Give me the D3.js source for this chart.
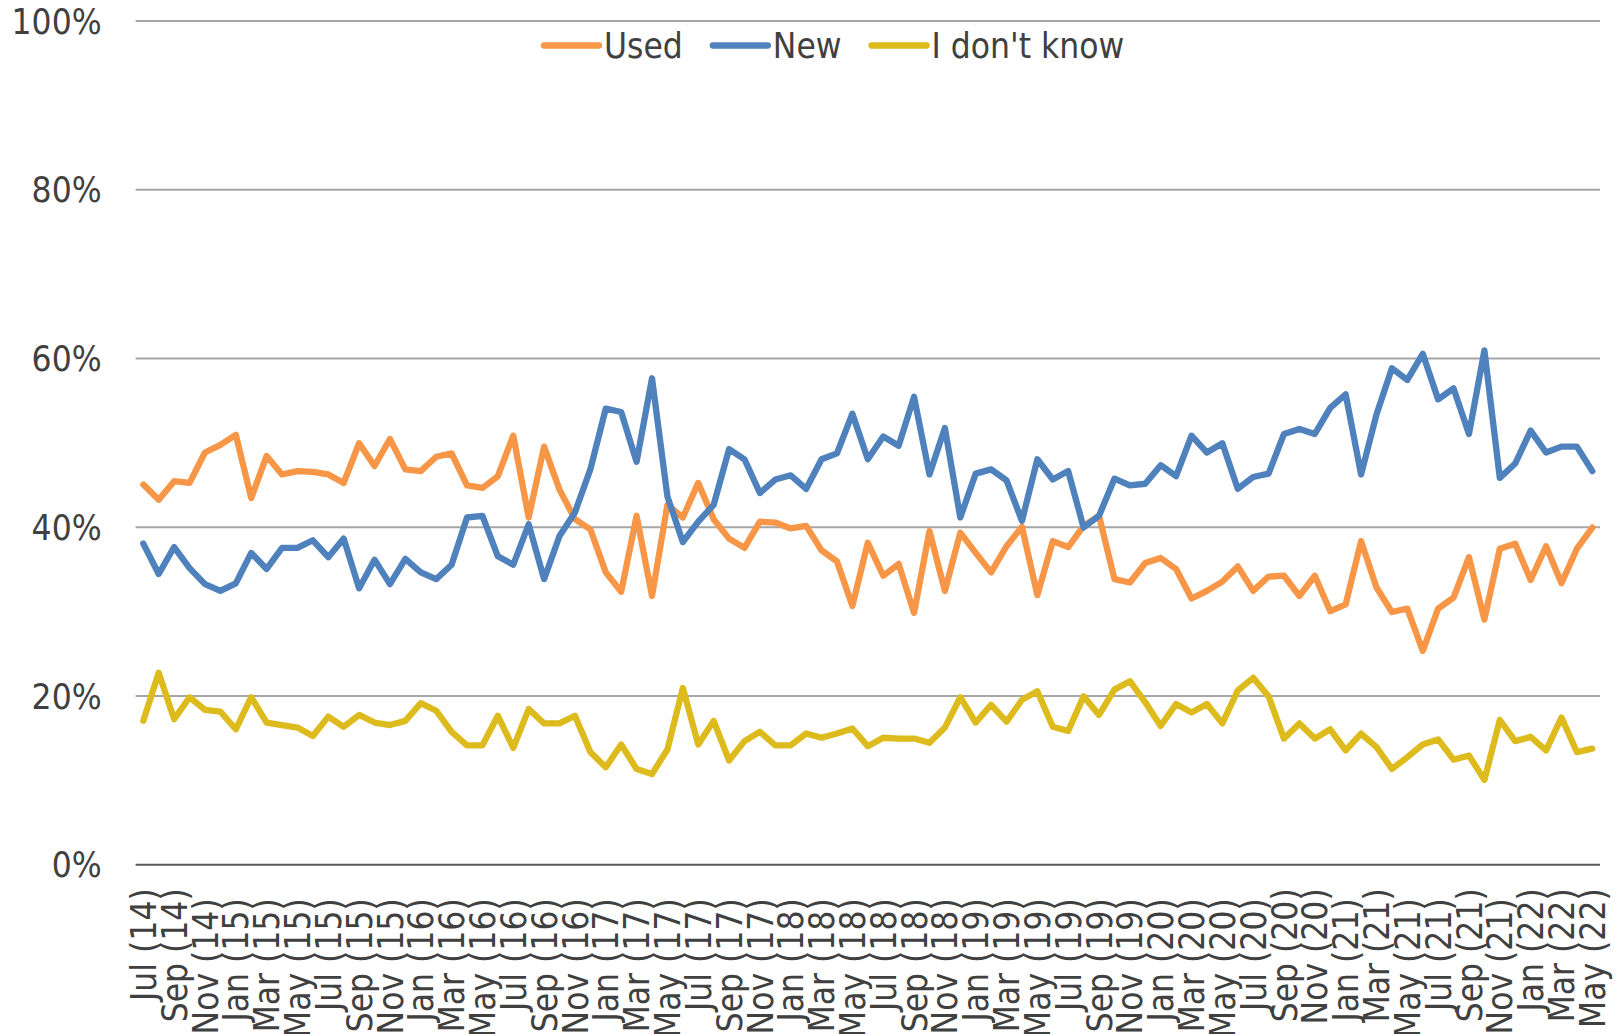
<html>
<head>
<meta charset="utf-8">
<script src="https://d3js.org/d3.v7.min.js"></script>
<style>
  body { margin: 0; background: #fff; }
  svg text { font-family: "DejaVu Sans Condensed", "DejaVu Sans", sans-serif; font-stretch: condensed; fill: #404040; }
  .line { fill: none; stroke-width: 6.3; stroke-linejoin: round; stroke-linecap: round; }
</style>
</head>
<body>
<svg width="1619" height="1034"></svg>
<script>
// monthly survey shares, Jul 2014 .. May 2022 (percent)
var used = [
  45.0, 43.2, 45.4, 45.2, 48.8, 49.7, 50.9, 43.4, 48.4, 46.2,
  46.6, 46.5, 46.2, 45.2, 49.9, 47.2, 50.4, 46.8, 46.6, 48.3,
  48.7, 44.9, 44.6, 46.0, 50.8, 41.1, 49.5, 44.4, 40.9, 39.7,
  34.6, 32.3, 41.3, 31.8, 42.6, 41.1, 45.2, 40.9, 38.6, 37.5,
  40.6, 40.5, 39.8, 40.1, 37.2, 35.9, 30.6, 38.1, 34.2, 35.6,
  29.8, 39.5, 32.4, 39.3, 36.9, 34.6, 37.7, 40.0, 31.9, 38.3,
  37.6, 40.1, 41.3, 33.8, 33.4, 35.7, 36.3, 35.0, 31.5, 32.4,
  33.5, 35.3, 32.4, 34.1, 34.2, 31.8, 34.2, 30.0, 30.8, 38.3,
  32.8, 29.9, 30.3, 25.3, 30.3, 31.6, 36.4, 29.0, 37.4, 38.0,
  33.7, 37.7, 33.3, 37.4, 39.9
];
var newer = [
  38.0, 34.4, 37.6, 35.1, 33.2, 32.4, 33.3, 36.9, 35.0, 37.5,
  37.5, 38.4, 36.4, 38.6, 32.7, 36.1, 33.2, 36.2, 34.6, 33.8,
  35.5, 41.1, 41.3, 36.5, 35.5, 40.3, 33.8, 38.9, 41.7, 46.8,
  54.0, 53.6, 47.7, 57.6, 43.6, 38.2, 40.6, 42.6, 49.2, 48.0,
  44.0, 45.6, 46.1, 44.5, 48.0, 48.7, 53.4, 48.0, 50.7, 49.6,
  55.4, 46.2, 51.7, 41.1, 46.3, 46.8, 45.5, 40.7, 48.0, 45.6,
  46.6, 39.9, 41.3, 45.7, 44.9, 45.1, 47.3, 46.0, 50.8, 48.8,
  49.9, 44.5, 45.9, 46.3, 51.0, 51.6, 51.0, 54.1, 55.7, 46.2,
  53.3, 58.8, 57.4, 60.5, 55.1, 56.4, 51.0, 60.9, 45.8, 47.5,
  51.4, 48.8, 49.5, 49.5, 46.6
];
var dontKnow = [
  17.0, 22.7, 17.2, 19.8, 18.3, 18.1, 16.0, 19.8, 16.8, 16.5,
  16.2, 15.2, 17.5, 16.3, 17.7, 16.8, 16.5, 17.0, 19.1, 18.2,
  15.7, 14.1, 14.1, 17.6, 13.8, 18.4, 16.7, 16.7, 17.6, 13.3,
  11.5, 14.2, 11.3, 10.7, 13.6, 20.9, 14.2, 17.0, 12.3, 14.6,
  15.7, 14.1, 14.1, 15.5, 15.0, 15.5, 16.1, 14.0, 15.0, 14.9,
  14.9, 14.4, 16.2, 19.8, 16.8, 18.9, 16.9, 19.5, 20.5, 16.3,
  15.8, 19.9, 17.7, 20.7, 21.7, 19.2, 16.4, 19.0, 18.0, 19.0,
  16.7, 20.6, 22.1, 19.9, 14.9, 16.7, 14.9, 16.0, 13.5, 15.5,
  13.9, 11.3, 12.7, 14.2, 14.8, 12.4, 12.9, 10.0, 17.1, 14.6,
  15.1, 13.5, 17.4, 13.3, 13.7
];
// every second month is labelled (some source labels carry a trailing space)
var tickLabels = [
  "Jul (14)", "Sep (14)", "Nov (14) ", "Jan (15) ", "Mar (15) ", "May (15) ",
  "Jul (15) ", "Sep (15) ", "Nov (15) ", "Jan (16) ", "Mar (16) ", "May (16) ",
  "Jul (16) ", "Sep (16) ", "Nov (16) ", "Jan (17) ", "Mar (17) ", "May (17) ",
  "Jul (17) ", "Sep (17) ", "Nov (17) ", "Jan (18) ", "Mar (18) ", "May (18) ",
  "Jul (18) ", "Sep (18) ", "Nov (18) ", "Jan (19) ", "Mar (19) ", "May (19) ",
  "Jul (19) ", "Sep (19) ", "Nov (19) ", "Jan (20) ", "Mar (20) ", "May (20) ",
  "Jul (20) ", "Sep (20)", "Nov (20)", "Jan (21) ", "Mar (21)", "May (21) ",
  "Jul (21) ", "Sep (21)", "Nov (21) ", "Jan (22)", "Mar (22)", "May (22)"
];
var seriesNames = ["Used", "New", "I don't know"];
var seriesColors = ["#F79646", "#4F81BD", "#DDBB1D"];
var yTicks = [0, 0.2, 0.4, 0.6, 0.8, 1];

var series = [used, newer, dontKnow];
var months = d3.range(used.length);

var svg = d3.select("svg");
var plotLeft = 135.6, plotRight = 1600, plotTop = 20.5, plotBottom = 864.3;

var x = d3.scaleBand().domain(months).range([plotLeft, plotRight]).padding(0);
var y = d3.scaleLinear().domain([0, 1]).range([plotBottom, plotTop]);
var cx = function(i) { return x(i) + x.bandwidth() / 2; };

// gridlines + y labels
var yAxis = svg.append("g")
  .attr("transform", "translate(" + plotLeft + ",0)")
  .call(d3.axisLeft(y).tickValues(yTicks).tickFormat(d3.format(".0%")).tickSize(-(plotRight - plotLeft)).tickPadding(34));
yAxis.select(".domain").remove();
yAxis.selectAll(".tick line")
  .attr("stroke", function(d) { return d === 0 ? "#595959" : "#A6A6A6"; })
  .attr("stroke-width", 2);
yAxis.selectAll(".tick text")
  .style("font-size", "35px")
  .attr("dy", "0.36em");

// x labels
var xAxis = svg.append("g")
  .attr("transform", "translate(0," + plotBottom + ")")
  .call(d3.axisBottom(x)
    .tickValues(months.filter(function(d) { return d % 2 === 0; }))
    .tickFormat(function(d) { return tickLabels[d / 2]; })
    .tickSize(0));
xAxis.select(".domain").remove();
xAxis.selectAll(".tick text")
  .style("font-size", "35px")
  .style("white-space", "pre")
  .attr("text-anchor", "end")
  .attr("transform", "translate(0,24) rotate(-90)")
  .attr("x", 0)
  .attr("y", 0)
  .attr("dy", "0.36em");

// lines
var line = d3.line()
  .x(function(d, i) { return cx(i); })
  .y(function(d) { return y(d / 100); });

svg.selectAll("path.line")
  .data(series)
  .enter()
  .append("path")
    .attr("class", "line")
    .attr("stroke", function(d, i) { return seriesColors[i]; })
    .attr("d", line);

// legend
var lx = 544, ly = 45.5;
seriesNames.forEach(function(name, i) {
  svg.append("line")
    .attr("x1", lx).attr("x2", lx + 55)
    .attr("y1", ly).attr("y2", ly)
    .attr("stroke", seriesColors[i])
    .attr("stroke-width", 6.3)
    .attr("stroke-linecap", "round");
  var t = svg.append("text")
    .attr("x", lx + 60)
    .attr("y", ly)
    .attr("dy", "0.36em")
    .style("font-size", "35px")
    .text(name);
  lx = lx + 60 + t.node().getComputedTextLength() + 30;
});
</script>
</body>
</html>
